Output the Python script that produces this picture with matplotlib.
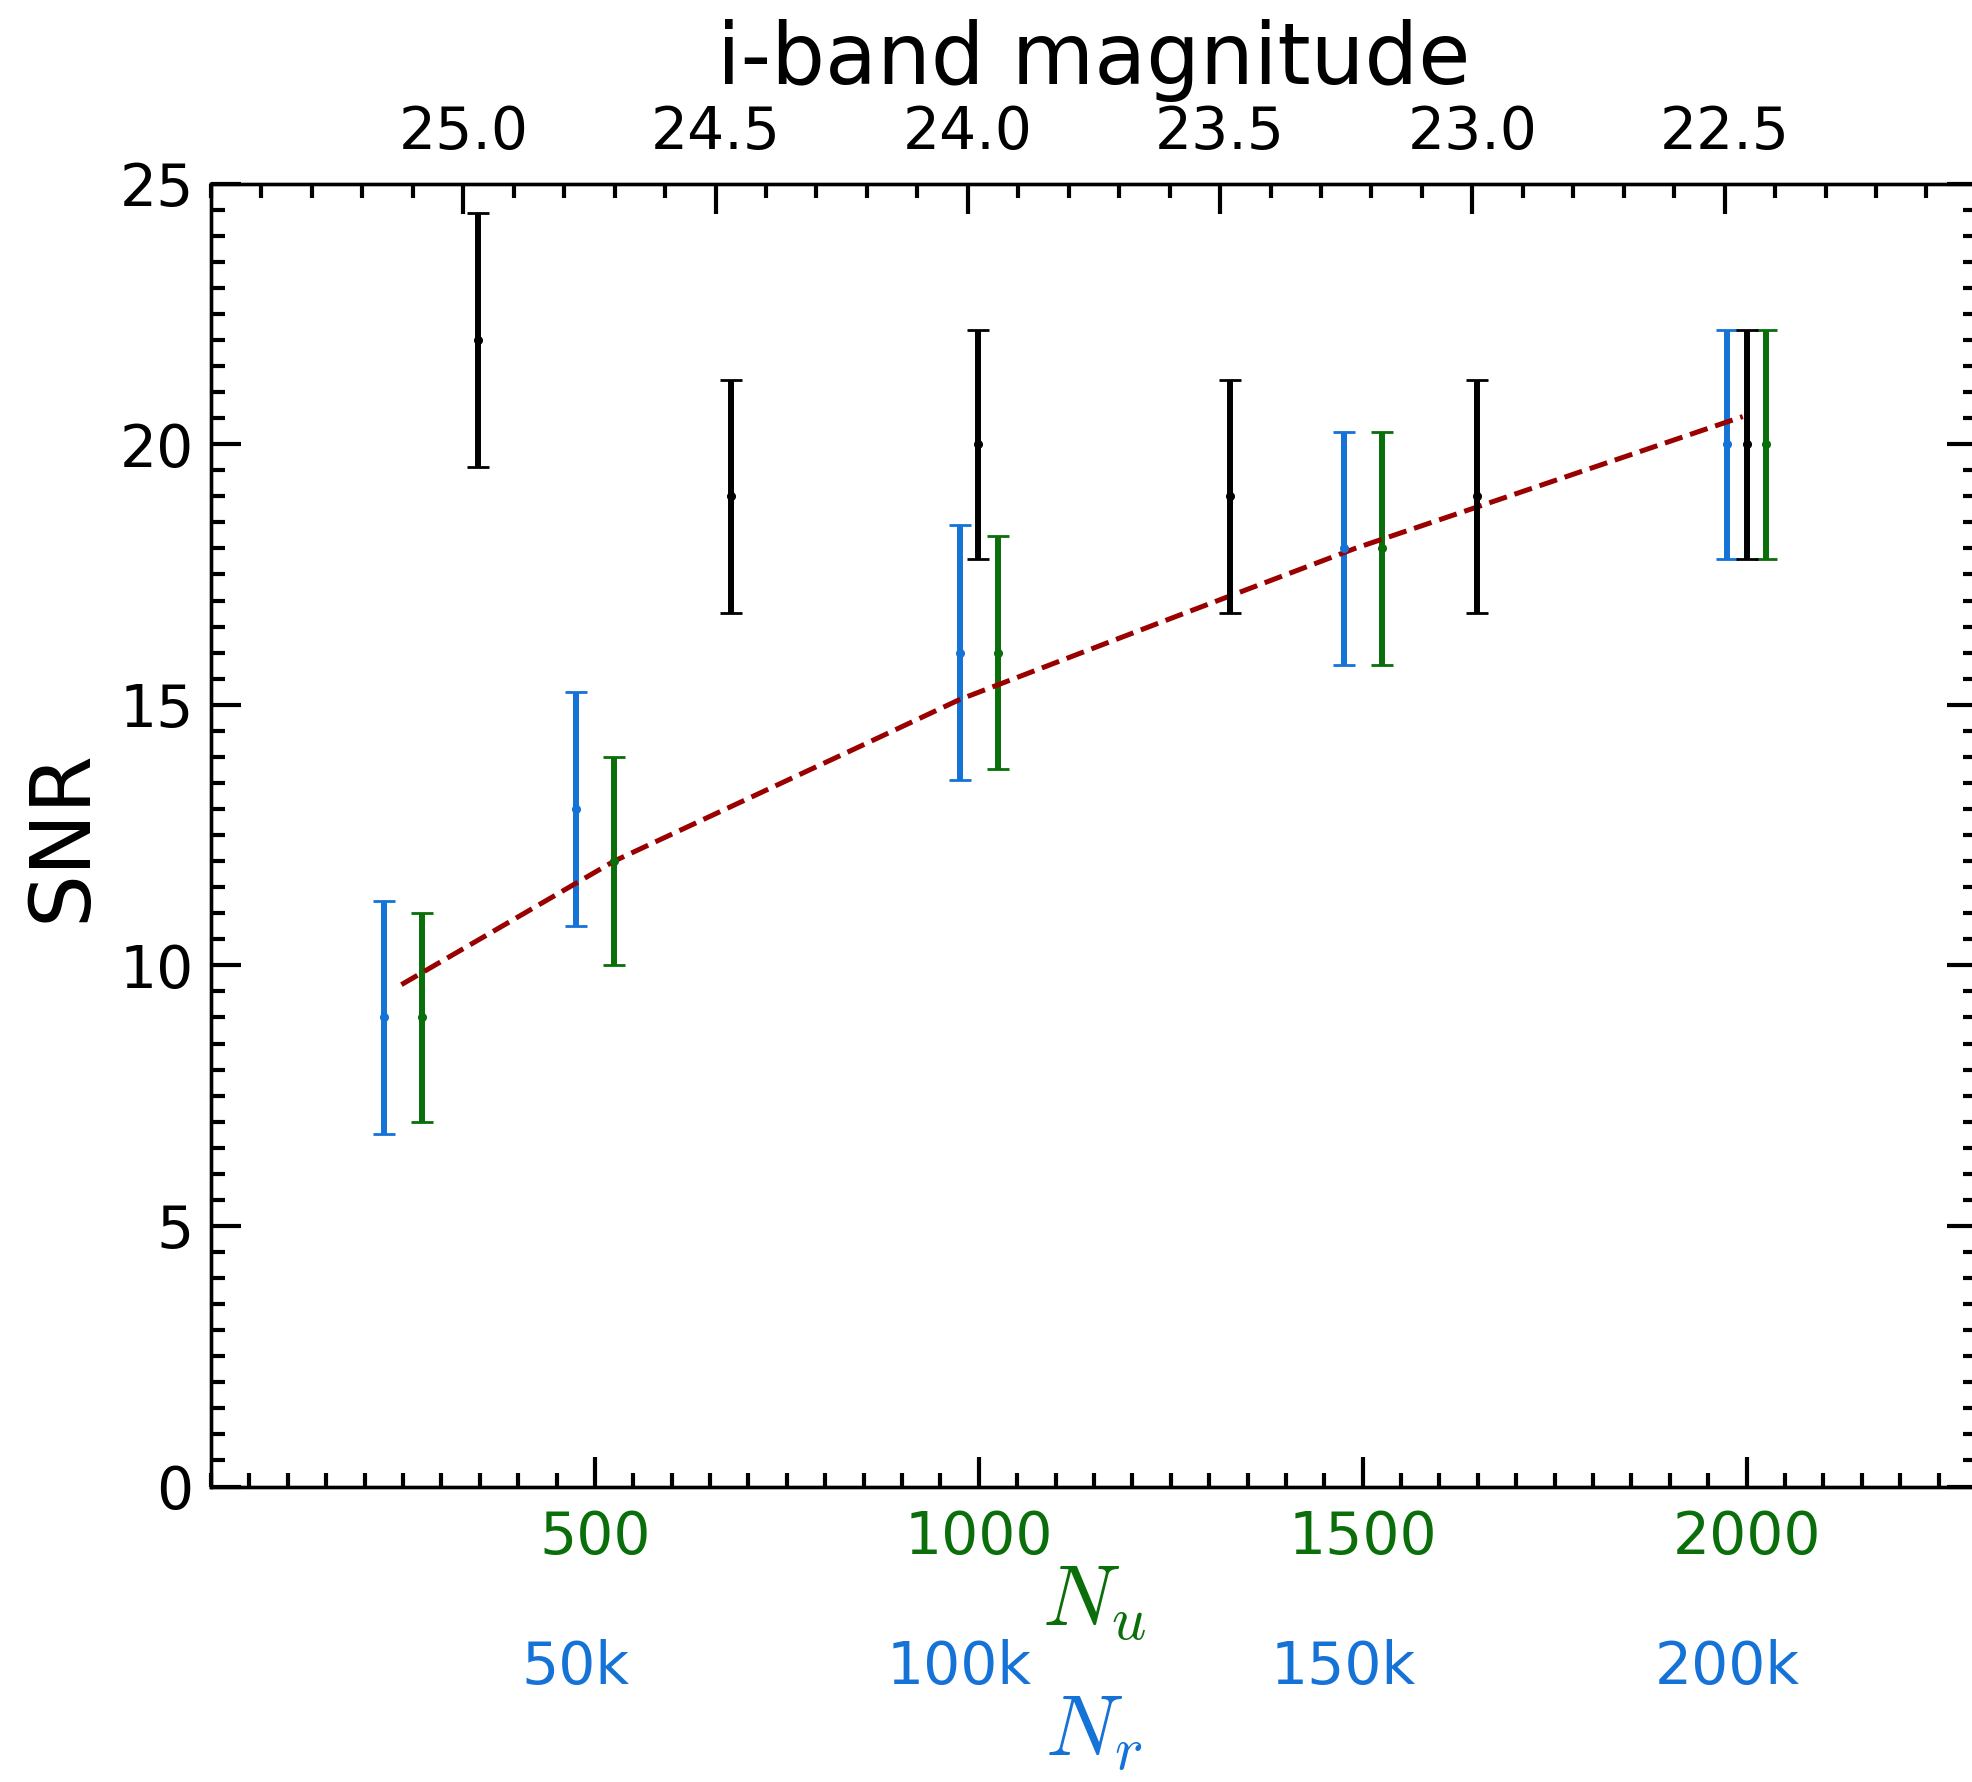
import matplotlib.pyplot as plt
from matplotlib.ticker import MultipleLocator

plt.rcParams['mathtext.fontset'] = 'cm'

# N_r sample (blue), plotted against N_u positions
blue_x = [225, 475, 975, 1475, 1975]
blue_snr = [9, 13, 16, 18, 20]
blue_err = [2.23, 2.24, 2.45, 2.24, 2.2]

# N_u sample (green)
green_x = [275, 525, 1025, 1525, 2025]
green_snr = [9, 12, 16, 18, 20]
green_err = [2.0, 2.0, 2.24, 2.24, 2.2]

# i-band magnitude sample (black, top axis)
black_mag = [24.97, 24.47, 23.98, 23.48, 22.99, 22.455]
black_snr = [22, 19, 20, 19, 19, 20]
black_err = [2.43, 2.24, 2.2, 2.24, 2.24, 2.2]

# dashed trend
trend_x = [248, 525, 845, 975, 1240, 1490, 1650, 1995]
trend_snr = [9.63, 12.0, 14.2, 15.1, 16.6, 18.0, 18.8, 20.53]

nu_ticks = [500, 1000, 1500, 2000]
nr_tick_pos = [475, 975, 1475, 1975]
nr_tick_labels = ['50k', '100k', '150k', '200k']
mag_ticks = [25.0, 24.5, 24.0, 23.5, 23.0, 22.5]

blue = '#1572d6'
green = '#0a6e0a'
red = '#9a0000'

fs_tick = 42
fs_label = 61

fig = plt.figure(figsize=(19.72, 17.82), dpi=100)
ax = fig.add_axes([0.1070, 0.16582, 0.8955, 0.73114])

eb = dict(fmt='o', ms=5.5, lw=4.3, capsize=8, capthick=2)
ax.errorbar(blue_x, blue_snr, yerr=blue_err, color=blue, **eb)
ax.errorbar(green_x, green_snr, yerr=green_err, color=green, **eb)
ax.plot(trend_x, trend_snr, '--', color=red, lw=3.6)

ax.set_xlim(0, 2300)
ax.set_ylim(0, 25)
ax.set_xticks(nu_ticks)
ax.xaxis.set_minor_locator(MultipleLocator(50))
ax.yaxis.set_major_locator(MultipleLocator(5))
ax.yaxis.set_minor_locator(MultipleLocator(0.5))
ax.tick_params(which='both', direction='in', width=3, pad=16,
               labelsize=fs_tick, top=False, right=True)
ax.tick_params(axis='y', pad=12.5)
ax.tick_params(which='major', length=21.6)
ax.tick_params(which='minor', length=10)
ax.tick_params(axis='x', labelcolor=green)
for s in ax.spines.values():
    s.set_linewidth(2.4)
ax.set_xlabel('$N_u$', color=green, fontsize=62, labelpad=-4)
ax.set_ylabel('SNR', fontsize=60, labelpad=12)

# top axis: i-band magnitude
axt = ax.twiny()
axt.errorbar(black_mag, black_snr, yerr=black_err, color='black', **eb)
axt.set_xlim(25.5, 22.0)
axt.set_xticks(mag_ticks)
axt.set_xticklabels([f'{m:.1f}' for m in mag_ticks])
axt.xaxis.set_minor_locator(MultipleLocator(0.1))
axt.tick_params(which='both', direction='in', width=3, pad=16, labelsize=fs_tick)
axt.tick_params(which='major', length=21.6)
axt.tick_params(which='minor', length=10)
axt.set_xlabel('i-band magnitude', fontsize=fs_label, labelpad=15)
for s in axt.spines.values():
    s.set_linewidth(2.4)

# second bottom axis: N_r labels
axr = ax.twiny()
axr.set_xlim(0, 2300)
axr.xaxis.set_ticks_position('bottom')
axr.xaxis.set_label_position('bottom')
axr.spines['bottom'].set_position(('outward', 94))
for s in axr.spines.values():
    s.set_visible(False)
axr.set_xticks(nr_tick_pos)
axr.set_xticklabels(nr_tick_labels)
axr.tick_params(axis='x', length=0, pad=16, labelsize=fs_tick, labelcolor=blue)
axr.set_xlabel('$N_r$', color=blue, fontsize=62, labelpad=-4)

fig.savefig('out.png', dpi=100)
plt.close(fig)
